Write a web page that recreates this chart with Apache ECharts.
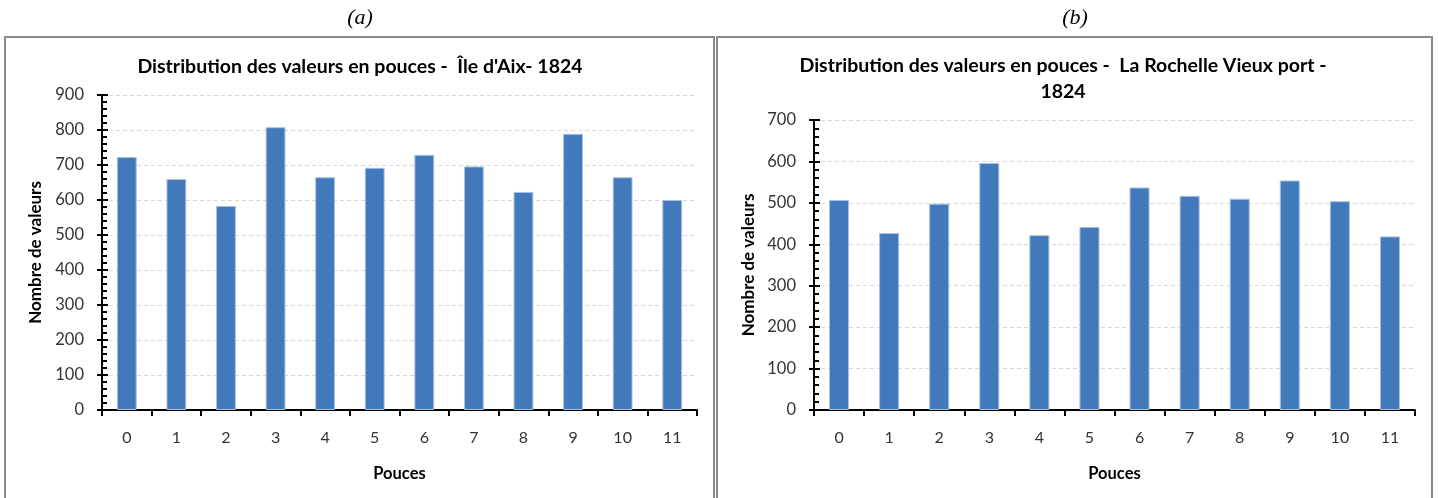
<!DOCTYPE html>
<html>
<head>
<meta charset="utf-8">
<script src="https://cdn.jsdelivr.net/npm/echarts@6/dist/echarts.min.js"></script>
<style>
  html, body { margin: 0; padding: 0; background: #fff; }
  #chart { width: 1438px; height: 498px; }
</style>
</head>
<body>
<div id="chart"></div>
<script>
// Number of readings per inch value (0–11), tide records of 1824
const pouces = ['0', '1', '2', '3', '4', '5', '6', '7', '8', '9', '10', '11'];
const ileDAix = [723, 660, 583, 808, 665, 692, 729, 696, 623, 789, 665, 600];
const laRochelle = [507, 427, 498, 596, 422, 442, 537, 517, 510, 554, 504, 419];

const titleAix = "Distribution des valeurs en pouces -  Île d'Aix- 1824";
const titleRochelle = 'Distribution des valeurs en pouces -  La Rochelle Vieux port -\n1824';

const FONT = 'Lato, "Open Sans", sans-serif';
const BAR = '#4279bb';
const TEXT = '#333333';

const chart = echarts.init(document.getElementById('chart'), null, { renderer: 'canvas' });

function xAxisFor(gridIndex) {
  return {
    type: 'category',
    gridIndex: gridIndex,
    data: pouces,
    boundaryGap: true,
    name: 'Pouces',
    nameLocation: 'middle',
    nameGap: 55,
    nameTextStyle: { fontFamily: FONT, fontSize: 16.5, fontWeight: 'bold', color: '#000' },
    axisLine: { lineStyle: { color: '#000', width: 2 } },
    axisTick: { show: true, alignWithLabel: false, length: 6, lineStyle: { color: '#000', width: 2 } },
    axisLabel: { fontFamily: FONT, fontSize: 16, color: TEXT, margin: 20 },
    splitLine: { show: false }
  };
}

// Main value axis: labels, outer major ticks, dashed grid
function yAxisMain(gridIndex, max, nameGap) {
  return {
    type: 'value',
    gridIndex: gridIndex,
    min: 0,
    max: max,
    interval: 100,
    position: 'left',
    name: 'Nombre de valeurs',
    nameLocation: 'middle',
    nameGap: nameGap,
    nameTextStyle: { fontFamily: FONT, fontSize: 17, fontWeight: 'bold', color: '#000' },
    axisLine: { show: true, lineStyle: { color: '#000', width: 2 } },
    axisTick: { show: true, inside: false, length: 5, lineStyle: { color: '#000', width: 2 } },
    axisLabel: { fontFamily: FONT, fontSize: 16.5, color: TEXT, margin: 18 },
    splitLine: { show: true, lineStyle: { color: '#d9d9d9', type: [4, 3], width: 1 } }
  };
}

// Twin axis on the same line carrying the inner ticks and minor ticks
function yAxisTicks(gridIndex, max) {
  return {
    type: 'value',
    gridIndex: gridIndex,
    min: 0,
    max: max,
    interval: 100,
    position: 'left',
    offset: 0,
    axisLine: { show: false },
    axisTick: { show: true, inside: true, length: 6, lineStyle: { color: '#000', width: 2 } },
    minorTick: { show: true, splitNumber: 5, length: 5, lineStyle: { color: '#000', width: 2 } },
    axisLabel: { show: false },
    splitLine: { show: false }
  };
}

function barSeries(xi, yi, data) {
  return {
    type: 'bar',
    xAxisIndex: xi,
    yAxisIndex: yi,
    data: data,
    barWidth: '40%',
    itemStyle: { color: BAR, borderColor: '#a9c1e1', borderWidth: 1 },
    animation: false
  };
}

chart.setOption({
  backgroundColor: '#fff',
  animation: false,
  title: [
    {
      text: titleAix,
      left: 355, top: 49, textAlign: 'center',
      textStyle: { fontFamily: FONT, fontSize: 19.5, fontWeight: 'bold', color: '#000', lineHeight: 26 }
    },
    {
      text: titleRochelle,
      left: 1058, top: 48, textAlign: 'center',
      textStyle: { fontFamily: FONT, fontSize: 19.5, fontWeight: 'bold', color: '#000', lineHeight: 26 }
    }
  ],
  graphic: [
    { type: 'rect', shape: { x: 5, y: 37, width: 709, height: 470 }, style: { fill: 'none', stroke: '#8a8a8a', lineWidth: 2 }, silent: true },
    { type: 'rect', shape: { x: 717, y: 37, width: 715, height: 470 }, style: { fill: 'none', stroke: '#8a8a8a', lineWidth: 2 }, silent: true },
    { type: 'text', x: 360, y: 18, style: { text: '(a)', font: 'italic 22px "Liberation Serif", "DejaVu Serif", serif', fill: '#000', textAlign: 'center', textVerticalAlign: 'middle' }, silent: true },
    { type: 'text', x: 1075, y: 18, style: { text: '(b)', font: 'italic 22px "Liberation Serif", "DejaVu Serif", serif', fill: '#000', textAlign: 'center', textVerticalAlign: 'middle' }, silent: true }
  ],
  grid: [
    { left: 102, right: 741, top: 95, bottom: 88, containLabel: false },
    { left: 814, right: 23, top: 120, bottom: 88, containLabel: false }
  ],
  xAxis: [xAxisFor(0), xAxisFor(1)],
  yAxis: [
    yAxisMain(0, 900, 58),
    yAxisTicks(0, 900),
    yAxisMain(1, 700, 57),
    yAxisTicks(1, 700)
  ],
  series: [
    barSeries(0, 0, ileDAix),
    barSeries(1, 2, laRochelle)
  ]
});
</script>
</body>
</html>
